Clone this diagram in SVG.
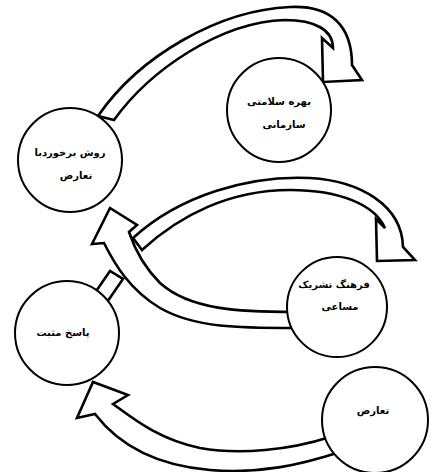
<svg xmlns="http://www.w3.org/2000/svg" width="437" height="472" viewBox="0 0 437 472">
<style>
.arrow{fill:#fff;stroke:#000;stroke-width:2.6;stroke-linejoin:miter}
.node circle{fill:#fff;stroke:#000;stroke-width:2}
.node text{font-family:"DejaVu Sans",sans-serif;font-size:10px;font-weight:bold;text-anchor:middle;fill:#000}
</style>
<rect width="437" height="472" fill="#fff"/>
<g id="connectors">
<path class="arrow" d="M98,116 C140,55 220,10 290,7 C330,5 352,25 352,65 L362,80 L323,82 L322,38 L333,48 C333,30 315,20 285,20 C220,22 150,70 114,120 Z"/>
<path class="arrow" d="M133,238 C180,195 250,175 310,178 C360,181 402,205 403,247 L415,260 L377,261 L376,219 L385,228 C375,205 340,190 290,190 C230,190 180,215 142,250 Z"/>
<path class="arrow" d="M295,312 C240,312 190,310 160,283 C145,268 135,250 129,232 L137,225 L110,208 L92,244 L104,243 C115,265 130,290 160,308 C195,328 240,328 295,328 Z"/>
<path class="arrow" d="M90,300 L110,271 L123,279 L103,308 Z"/>
<path class="arrow" d="M330,437 C290,450 240,455 200,448 C160,440 135,420 113,404 L128,395 L93,382 L77,418 L95,414 C115,440 150,465 210,470 C260,474 300,465 340,452 Z"/>
</g>
<g id="node-a" class="node"><circle cx="279" cy="110" r="52"/><text x="279" y="105">بهره سلامتی</text><text x="284" y="128">سازمانی</text></g>
<g id="node-b" class="node"><circle cx="70" cy="160" r="52"/><text x="70" y="156">روش برخوردبا</text><text x="76" y="179">تعارض</text></g>
<g id="node-c" class="node"><circle cx="337" cy="307" r="50"/><text x="334" y="288">فرهنگ تشریک</text><text x="340" y="310">مساعی</text></g>
<g id="node-d" class="node"><circle cx="67" cy="333" r="52"/><text x="63" y="336">پاسخ مثبت</text></g>
<g id="node-e" class="node"><circle cx="375" cy="420" r="53"/><text x="373" y="414">تعارض</text></g>
</svg>
